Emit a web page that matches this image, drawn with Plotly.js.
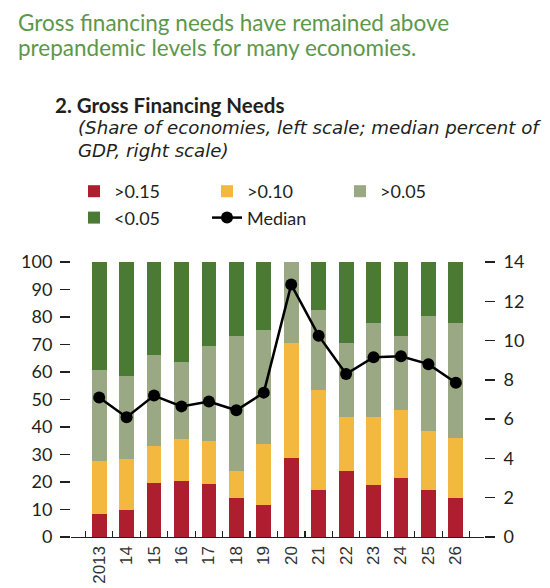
<!DOCTYPE html>
<html>
<head>
<meta charset="utf-8">
<script src="https://cdn.plot.ly/plotly-3.0.1.min.js"></script>
<style>
  html, body { margin: 0; padding: 0; background: #fff; }
  #chart { width: 550px; height: 588px; }
</style>
</head>
<body>
<div id="chart"></div>
<script>
// years on the x axis
let years = ['2013', '14', '15', '16', '17', '18', '19', '20', '21', '22', '23', '24', '25', '26'];

// share of economies (percent) in each bucket, left scale
let above015 = [8.3, 10.0, 19.8, 20.3, 19.3, 14.2, 11.7, 28.7, 17.0, 24.1, 19.0, 21.5, 17.0, 14.3];
let above010 = [19.2, 18.2, 13.2, 15.2, 15.5, 9.9, 22.2, 41.8, 36.5, 19.6, 24.7, 24.7, 21.6, 21.7];
let above005 = [33.3, 30.4, 33.2, 28.2, 34.8, 48.9, 41.4, 29.5, 28.9, 26.8, 34.2, 26.8, 41.7, 41.9];
let below005 = [39.2, 41.4, 33.8, 36.3, 30.4, 27.0, 24.7, 0.0, 17.6, 29.5, 22.1, 27.0, 19.7, 22.1];

// median gross financing needs, percent of GDP, right scale
let median = [7.1, 6.1, 7.2, 6.65, 6.9, 6.45, 7.35, 12.85, 10.25, 8.3, 9.15, 9.2, 8.8, 7.85];

let textColor = '#231f20';
let font = 'Lato, "Open Sans", sans-serif';

function barTrace(name, values, color) {
  return {
    type: 'bar',
    name: name,
    x: years,
    y: values,
    marker: { color: color, line: { width: 0 } },
    hoverinfo: 'skip'
  };
}

let traces = [
  barTrace('>0.15', above015, '#ad1f2f'),
  barTrace('>0.10', above010, '#f3b840'),
  barTrace('>0.05', above005, '#9aa883'),
  barTrace('<0.05', below005, '#4b7a35'),
  {
    type: 'scatter',
    mode: 'lines+markers',
    name: 'Median',
    x: years,
    y: median,
    yaxis: 'y2',
    line: { color: '#000', width: 2.5 },
    marker: { color: '#000', size: 12 },
    hoverinfo: 'skip'
  }
];

// map pixel positions of the header text into paper coordinates
let ml = 71, mr = 66, mt = 262, mb = 51;
let pw = 550 - ml - mr, ph = 588 - mt - mb;
let px = p => (p - ml) / pw;
let py = p => (588 - mb - p) / ph;

let layout = {
  width: 550,
  height: 588,
  margin: { l: ml, r: mr, t: mt, b: mb },
  paper_bgcolor: '#fff',
  plot_bgcolor: '#fff',
  font: { family: font, color: textColor, size: 18 },
  barmode: 'stack',
  bargap: 0.46,
  showlegend: true,
  legend: {
    orientation: 'h',
    traceorder: 'normal',
    xref: 'container',
    yref: 'container',
    x: 74 / 550,
    y: 1 - 173 / 588,
    xanchor: 'left',
    yanchor: 'top',
    entrywidth: 88,
    itemwidth: 30,
    tracegroupgap: 0,
    font: { size: 18, color: textColor }
  },
  xaxis: {
    type: 'category',
    tickangle: -90,
    ticks: 'inside',
    ticklen: 6,
    tickwidth: 1.2,
    tickcolor: textColor,
    tickson: 'boundaries',
    showline: true,
    linecolor: textColor,
    linewidth: 1.2,
    showgrid: false,
    zeroline: false,
    ticklabelstandoff: 1,
    tickfont: { size: 17, color: '#333', family: '"Liberation Sans Narrow", "Liberation Sans", sans-serif' }
  },
  yaxis: {
    range: [0, 100],
    dtick: 10,
    ticks: 'outside',
    ticklen: 10,
    tickwidth: 1.5,
    tickcolor: textColor,
    ticklabelstandoff: 4,
    showline: false,
    showgrid: false,
    zeroline: false,
    tickfont: { size: 18 }
  },
  yaxis2: {
    overlaying: 'y',
    side: 'right',
    range: [0, 14],
    dtick: 2,
    ticks: 'outside',
    ticklen: 10,
    tickwidth: 1.5,
    tickcolor: textColor,
    ticklabelstandoff: 5,
    showline: false,
    showgrid: false,
    zeroline: false,
    tickfont: { size: 18 }
  },
  annotations: [
    {
      xref: 'paper', yref: 'paper', x: px(16), y: py(7),
      xanchor: 'left', yanchor: 'top', showarrow: false, align: 'left',
      text: 'Gross financing needs have remained above',
      font: { size: 22.5, color: '#5c974a', family: font }
    },
    {
      xref: 'paper', yref: 'paper', x: px(16), y: py(32),
      xanchor: 'left', yanchor: 'top', showarrow: false, align: 'left',
      text: 'prepandemic levels for many economies.',
      font: { size: 22.5, color: '#5c974a', family: font }
    },
    {
      xref: 'paper', yref: 'paper', x: px(53), y: py(91),
      xanchor: 'left', yanchor: 'top', showarrow: false, align: 'left',
      text: '<b>2. Gross Financing Needs</b>',
      font: { size: 20.5, color: textColor, family: font }
    },
    {
      xref: 'paper', yref: 'paper', x: px(76), y: py(115),
      xanchor: 'left', yanchor: 'top', showarrow: false, align: 'left',
      text: '<i>(Share of economies, left scale; median percent of</i>',
      font: { size: 18.2, color: textColor, family: '"DejaVu Sans", sans-serif' }
    },
    {
      xref: 'paper', yref: 'paper', x: px(76), y: py(138),
      xanchor: 'left', yanchor: 'top', showarrow: false, align: 'left',
      text: '<i>GDP, right scale)</i>',
      font: { size: 18.2, color: textColor, family: '"DejaVu Sans", sans-serif' }
    }
  ]
};

Plotly.newPlot(document.getElementById('chart'), traces, layout, { staticPlot: true });
</script>
</body>
</html>
